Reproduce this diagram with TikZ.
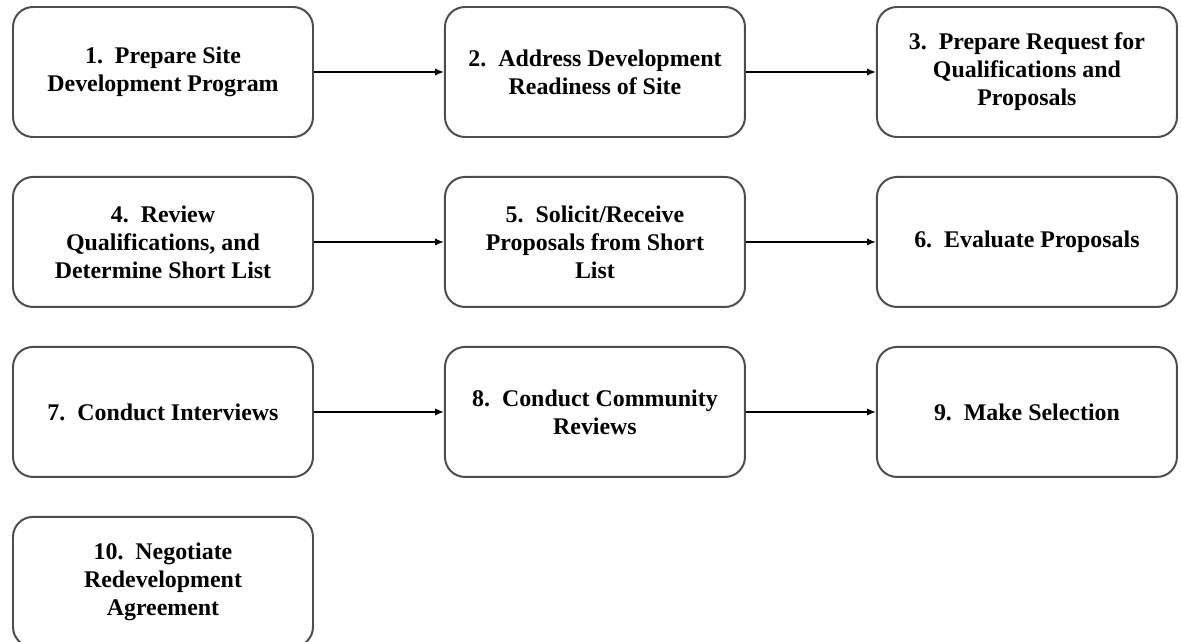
\documentclass[tikz,border=0pt]{standalone}
\usepackage{fontspec}
\setmainfont{Liberation Serif}
\usetikzlibrary{positioning, arrows.meta}

\begin{document}
\begin{tikzpicture}[font=\fontsize{17}{20}\selectfont\bfseries,
    stepbox/.style={draw=black!70, line width=1.4pt, rounded corners=0.5cm, align=center,
      minimum width=7.5cm, minimum height=3.25cm, inner sep=2pt},
    flow/.style={-{Latex[length=2.2mm, width=1.8mm]}, line width=1.1pt}]
  \useasboundingbox (0,0) rectangle (29.525,-16.05);
  % first row
  \node[stepbox] (s1) at (4.075,-1.8) {1.\ \ Prepare Site\\ Development Program};
  \node[stepbox, right=3.25cm of s1] (s2) {2.\ \ Address Development\\ Readiness of Site};
  \node[stepbox, right=3.25cm of s2] (s3) {3.\ \ Prepare Request for\\ Qualifications and\\ Proposals};
  % second row
  \node[stepbox, below=0.95cm of s1] (s4) {4.\ \ Review\\ Qualifications, and\\ Determine Short List};
  \node[stepbox, right=3.25cm of s4] (s5) {5.\ \ Solicit/Receive\\ Proposals from Short\\ List};
  \node[stepbox, right=3.25cm of s5] (s6) {6.\ \ Evaluate Proposals};
  % third row
  \node[stepbox, below=0.95cm of s4] (s7) {7.\ \ Conduct Interviews};
  \node[stepbox, right=3.25cm of s7] (s8) {8.\ \ Conduct Community\\ Reviews};
  \node[stepbox, right=3.25cm of s8] (s9) {9.\ \ Make Selection};
  % last step
  \node[stepbox, below=0.95cm of s7] (s10) {10.\ \ Negotiate\\ Redevelopment\\ Agreement};
  \draw[flow] (s1) -- (s2);
  \draw[flow] (s2) -- (s3);
  \draw[flow] (s4) -- (s5);
  \draw[flow] (s5) -- (s6);
  \draw[flow] (s7) -- (s8);
  \draw[flow] (s8) -- (s9);
\end{tikzpicture}
\end{document}
